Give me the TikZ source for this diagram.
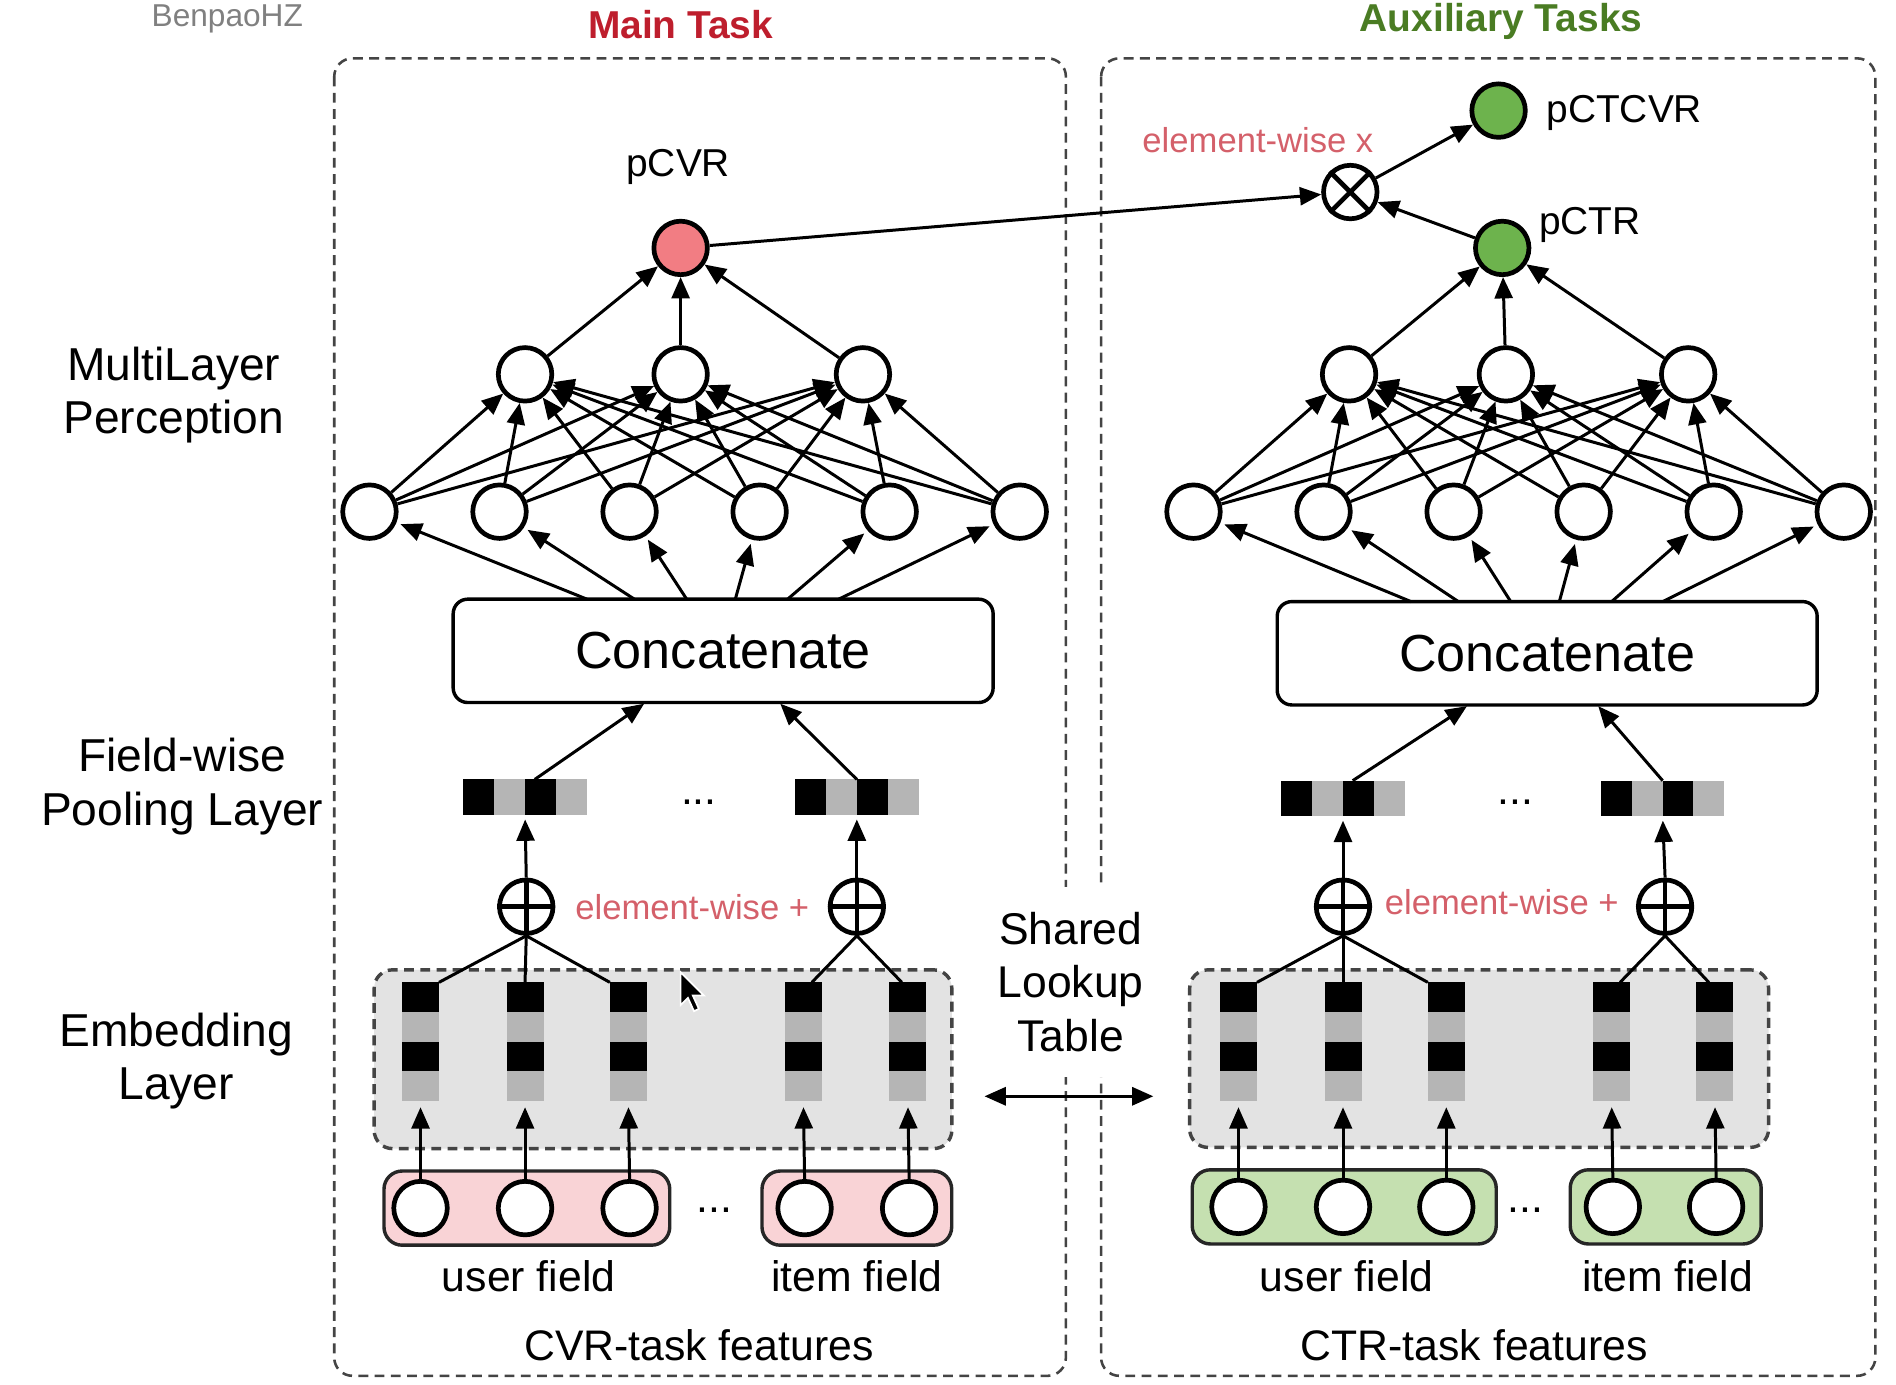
\documentclass[tikz,border=0pt]{standalone}
\usepackage{fontspec}
\setmainfont{Liberation Sans}
\usetikzlibrary{arrows.meta,calc}
\definecolor{titlered}{HTML}{BE1E2D}
\definecolor{titlegreen}{HTML}{4A7C23}
\definecolor{ewred}{HTML}{D4606A}
\definecolor{nodered}{HTML}{F27D83}
\definecolor{nodegreen}{HTML}{6DB34D}
\definecolor{pinkfill}{HTML}{F9D3D6}
\definecolor{greenfill}{HTML}{C5E0B0}
\definecolor{embgray}{HTML}{E3E3E3}
\definecolor{cellgray}{HTML}{B5B5B5}
\definecolor{boxgray}{HTML}{444444}
\begin{document}
\begin{tikzpicture}[x=0.01cm,y=-0.01cm,
  conn/.style={line width=0.7pt},
  arr/.style={line width=0.7pt,-{Triangle[length=5pt,width=4.2pt]}},
  darr/.style={line width=0.8pt,{Triangle[length=5pt,width=4.2pt]}-{Triangle[length=5pt,width=4.2pt]}},
  neuron/.style={circle,draw,line width=1.1pt,fill=white,minimum size=0.44cm,inner sep=0pt},
  catbox/.style={rectangle,rounded corners=0.12cm,draw,line width=0.8pt,minimum width=4.44cm,minimum height=0.85cm,font=\fontsize{12.2pt}{14pt}\selectfont},
  embcol/.style={rectangle,minimum width=0.29cm,minimum height=0.96cm,inner sep=0pt},
  poolvec/.style={rectangle,minimum width=1.0cm,minimum height=0.28cm,inner sep=0pt},
  taskbox/.style={draw=boxgray,dash pattern=on 2.3pt off 1.5pt,line width=0.6pt,rounded corners=0.15cm},
  embbox/.style={draw=boxgray,fill=embgray,dash pattern=on 2.3pt off 1.5pt,line width=0.8pt,rounded corners=0.15cm,inner sep=0pt},
  fieldbox/.style={draw=black!85,line width=0.8pt,rounded corners=0.15cm,inner sep=0pt,minimum height=0.61cm},
  lbl/.style={font=\fontsize{10.8pt}{12.5pt}\selectfont,align=center},
  small/.style={font=\fontsize{10pt}{12pt}\selectfont},
  outlbl/.style={font=\fontsize{9.1pt}{11pt}\selectfont},
  ewlbl/.style={font=\fontsize{8.1pt}{10pt}\selectfont,text=ewred},
  ttl/.style={font=\fontsize{9.1pt}{11pt}\selectfont\bfseries}
]
\useasboundingbox (0,0) rectangle (1560,1139);

% watermark
\node[anchor=base,font=\fontsize{7.4pt}{9pt}\selectfont,text=black!50] (wm) at (187,22) {BenpaoHZ};

% titles
\node[ttl,text=titlered] (tmain) at (560,20) {Main Task};
\node[ttl,text=titlegreen] (taux) at (1235,18) {Auxiliary Tasks};

% task boxes
\draw[taskbox] (275,48) rectangle (877,1132);
\draw[taskbox] (906,48) rectangle (1543,1132);

% left labels
\node[lbl] (lmlp) at (143,325) {MultiLayer\\Perception};
\node[lbl] (lpool) at (150,647) {Field-wise\\Pooling Layer};
\node[lbl] (lemb) at (145,873) {Embedding\\Layer};

% shared lookup
\node[font=\fontsize{10.4pt}{12.5pt}\selectfont,align=center,fill=white,inner xsep=2pt,inner ysep=6pt] (shared) at (881,808) {Shared\\Lookup\\Table};
\coordinate (sl) at (810,902);
\coordinate (sr) at (949,902);
\draw[darr] (sl) -- (sr);

% embedding boxes
\node[embbox,minimum width=4.75cm,minimum height=1.47cm] (emb1) at (545.5,871.5) {};
\node[embbox,minimum width=4.76cm,minimum height=1.46cm] (emb2) at (1217,871) {};

% field boxes
\node[fieldbox,fill=pinkfill,minimum width=2.35cm] (uf1) at (433.5,994) {};
\node[fieldbox,fill=pinkfill,minimum width=1.56cm] (if1) at (705,994) {};
\node[fieldbox,fill=greenfill,minimum width=2.50cm] (uf2) at (1106,993) {};
\node[fieldbox,fill=greenfill,minimum width=1.57cm] (if2) at (1370.5,993) {};

% input neurons
\foreach \x [count=\i] in {346,432,518,662,748}{\node[neuron] (i\i) at (\x,994) {};}
\foreach \x [count=\i] in {1019,1105,1190,1327,1412}{\node[neuron] (j\i) at (\x,993) {};}
\node[anchor=base,small] (dots3) at (588,998) {...};
\node[anchor=base,small] (dots4) at (1255,998) {...};

% embedding columns
\foreach \x [count=\i] in {346,432,517,661,747}{\node[embcol] (e\i) at (\x,857) {};}
\foreach \x [count=\i] in {1019,1105,1190,1326,1411}{\node[embcol] (f\i) at (\x,857) {};}
\foreach \n in {e1,e2,e3,e4,e5,f1,f2,f3,f4,f5}{
  \fill[black] (\n.north west) rectangle ($(\n.north east)!0.25!(\n.south east)$);
  \fill[cellgray] ($(\n.north west)!0.25!(\n.south west)$) rectangle ($(\n.north east)!0.5!(\n.south east)$);
  \fill[black] ($(\n.north west)!0.5!(\n.south west)$) rectangle ($(\n.north east)!0.75!(\n.south east)$);
  \fill[cellgray] ($(\n.north west)!0.75!(\n.south west)$) rectangle (\n.south east);
}
\foreach \a/\b in {i1/e1,i2/e2,i3/e3,i4/e4,i5/e5,j1/f1,j2/f2,j3/f3,j4/f4,j5/f5}{
  \draw[arr,shorten >=1.5pt] (\a.north) -- (\b.south);
}

% oplus nodes
\node[neuron] (op1) at (433,746) {};
\node[neuron] (op2) at (705,746) {};
\node[neuron] (op3) at (1105,746) {};
\node[neuron] (op4) at (1370,746) {};
\foreach \n in {op1,op2,op3,op4}{
  \draw[line width=1.1pt] (\n.north) -- (\n.south) (\n.west) -- (\n.east);
}
\node[ewlbl,anchor=west] (ew1) at (461,746) {element-wise +};
\node[ewlbl,anchor=west] (ew2) at (1127,742) {element-wise +};

\draw[conn] (op1.south) -- (e1.north east);
\draw[conn] (op1.south) -- (e2.north);
\draw[conn] (op1.south) -- (e3.north west);
\draw[conn] (op2.south) -- ($(e4.north)+(7,0)$);
\draw[conn] (op2.south) -- ($(e5.north)+(-5,0)$);
\draw[conn] (op3.south) -- (f1.north east);
\draw[conn] (op3.south) -- (f2.north);
\draw[conn] (op3.south) -- (f3.north west);
\draw[conn] (op4.south) -- ($(f4.north)+(7,0)$);
\draw[conn] (op4.south) -- ($(f5.north)+(-5,0)$);

% pooling vectors
\node[poolvec] (p1) at (432,656) {};
\node[poolvec] (p2) at (705,656) {};
\node[poolvec] (q1) at (1105,657) {};
\node[poolvec] (q2) at (1368,657) {};
\foreach \n in {p1,p2,q1,q2}{
  \fill[black] (\n.north west) rectangle ($(\n.south west)!0.25!(\n.south east)$);
  \fill[cellgray] ($(\n.north west)!0.25!(\n.north east)$) rectangle ($(\n.south west)!0.5!(\n.south east)$);
  \fill[black] ($(\n.north west)!0.5!(\n.north east)$) rectangle ($(\n.south west)!0.75!(\n.south east)$);
  \fill[cellgray] ($(\n.north west)!0.75!(\n.north east)$) rectangle (\n.south east);
}
\node[anchor=base,small] (dots1) at (575,662) {...};
\node[anchor=base,small] (dots2) at (1247,662) {...};
\draw[arr,shorten >=1pt] (op1.north) -- (p1.south);
\draw[arr,shorten >=1pt] (op2.north) -- (p2.south);
\draw[arr,shorten >=1pt] (op3.north) -- (q1.south);
\draw[arr,shorten >=1pt] (op4.north) -- (q2.south);

% concatenate
\node[catbox] (cat1) at (595,535.5) {Concatenate};
\node[catbox] (cat2) at (1273,537.5) {Concatenate};
\coordinate (c1a) at (530,579);
\coordinate (c1b) at (642,579);
\coordinate (c2a) at (1207,581);
\coordinate (c2b) at (1315,581);
\draw[arr] ($(p1.north)+(8,0)$) -- (c1a);
\draw[arr] (p2.north) -- (c1b);
\draw[arr] ($(q1.north)+(8,0)$) -- (c2a);
\draw[arr] (q2.north) -- (c2b);

% MLP layers
\foreach \x [count=\i] in {304,411,518,625,732,839}{\node[neuron] (b\i) at (\x,421) {};}
\foreach \x [count=\i] in {982,1089,1196,1303,1410,1517}{\node[neuron] (d\i) at (\x,421) {};}
\foreach \x [count=\i] in {432,560,710}{\node[neuron] (t\i) at (\x,308) {};}
\foreach \x [count=\i] in {1110,1239,1389}{\node[neuron] (u\i) at (\x,308) {};}

\foreach \x [count=\i] in {483,522,565,605,648,690}{
  \coordinate (ca\i) at (\x,493);
  \draw[arr,shorten >=1pt] (ca\i) -- (b\i);
}
\foreach \x [count=\i] in {1161,1200,1243,1283,1326,1368}{
  \coordinate (cb\i) at (\x,495);
  \draw[arr,shorten >=1pt] (cb\i) -- (d\i);
}
\foreach \i in {1,...,6}{
  \foreach \j in {1,2,3}{
    \draw[arr] (b\i) -- (t\j);
    \draw[arr] (d\i) -- (u\j);
  }
}

% outputs
\node[neuron,fill=nodered] (pcvr) at (560,204) {};
\node[neuron,fill=nodegreen] (pctr) at (1236,204) {};
\node[neuron,fill=nodegreen] (pctcvr) at (1233,91) {};
\node[neuron] (ot) at (1111,158) {};
\draw[line width=1.1pt] (ot.north west) -- (ot.south east) (ot.north east) -- (ot.south west);
\foreach \j in {1,2,3}{
  \draw[arr] (t\j) -- (pcvr);
  \draw[arr] (u\j) -- (pctr);
}
\draw[arr] (pcvr) -- (ot);
\draw[arr] (pctr) -- (ot);
\draw[arr] (ot) -- (pctcvr);

\node[outlbl] (lpcvr) at (558,137) {pCVR};
\node[outlbl,anchor=west] (lpctcvr) at (1260,93) {pCTCVR};
\node[outlbl,anchor=west] (lpctr) at (1254,185) {pCTR};
\node[ewlbl] (ewx) at (1035,115) {element-wise x};

% bottom labels
\node[small] (luf1) at (435,1050) {user field};
\node[small] (lif1) at (705,1050) {item field};
\node[small] (luf2) at (1108,1050) {user field};
\node[small] (lif2) at (1372,1050) {item field};
\node[small] (lcvr) at (575,1107) {CVR-task features};
\node[small] (lctr) at (1213,1107) {CTR-task features};

% mouse cursor
\filldraw[fill=black,draw=white,line width=0.4pt] (560,800) -- (560,827) -- (566,821) -- (571,832) -- (575,830) -- (570,819) -- (579,819) -- cycle;
\end{tikzpicture}
\end{document}
